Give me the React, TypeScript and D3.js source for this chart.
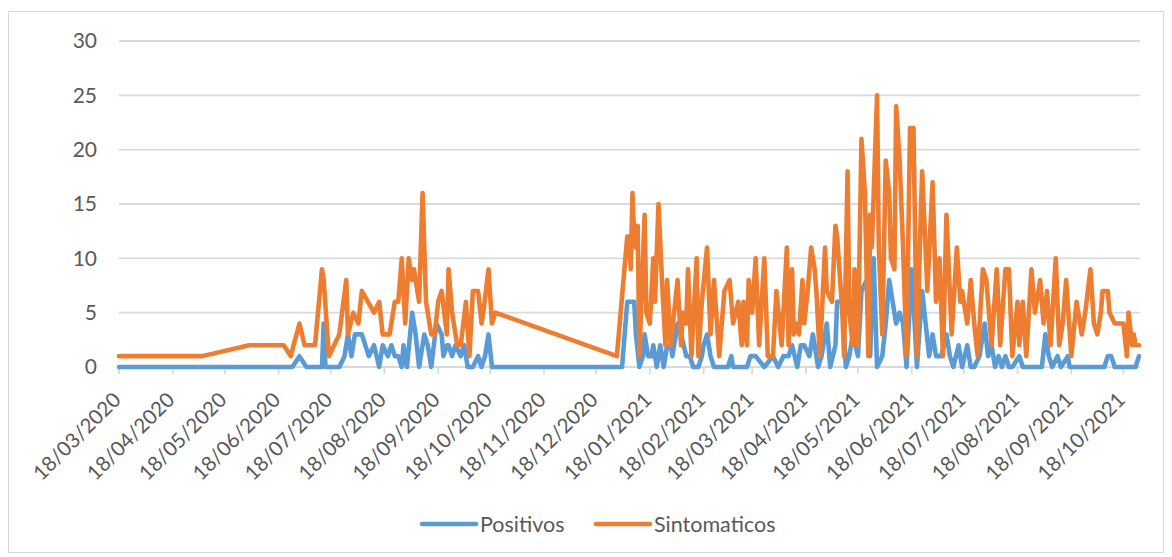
import React from 'react';
import * as d3 from 'd3';

// fechas (ISO) y valores
const sintomaticosFechas = [
  '2020-03-18', '2020-05-05', '2020-06-01', '2020-06-21', '2020-06-25', '2020-06-30', '2020-07-03', '2020-07-09',
  '2020-07-13', '2020-07-14', '2020-07-17', '2020-07-23', '2020-07-27', '2020-07-28', '2020-07-31', '2020-08-03',
  '2020-08-05', '2020-08-12', '2020-08-15', '2020-08-17', '2020-08-21', '2020-08-24', '2020-08-26', '2020-08-28',
  '2020-08-30', '2020-09-01', '2020-09-03', '2020-09-04', '2020-09-07', '2020-09-09', '2020-09-11', '2020-09-14',
  '2020-09-16', '2020-09-18', '2020-09-20', '2020-09-23', '2020-09-24', '2020-09-26', '2020-09-29', '2020-10-01',
  '2020-10-04', '2020-10-06', '2020-10-08', '2020-10-11', '2020-10-13', '2020-10-14', '2020-10-17', '2020-10-19',
  '2020-10-21', '2020-12-30', '2021-01-05', '2021-01-06', '2021-01-07', '2021-01-08', '2021-01-09', '2021-01-10',
  '2021-01-11', '2021-01-12', '2021-01-15', '2021-01-16', '2021-01-18', '2021-01-20', '2021-01-21', '2021-01-23',
  '2021-01-25', '2021-01-27', '2021-01-28', '2021-01-30', '2021-02-03', '2021-02-05', '2021-02-06', '2021-02-08',
  '2021-02-09', '2021-02-11', '2021-02-14', '2021-02-15', '2021-02-17', '2021-02-20', '2021-02-22', '2021-02-24',
  '2021-02-27', '2021-03-02', '2021-03-05', '2021-03-07', '2021-03-10', '2021-03-12', '2021-03-13', '2021-03-15',
  '2021-03-16', '2021-03-18', '2021-03-20', '2021-03-22', '2021-03-25', '2021-03-27', '2021-03-30', '2021-04-01',
  '2021-04-04', '2021-04-07', '2021-04-08', '2021-04-10', '2021-04-11', '2021-04-13', '2021-04-14', '2021-04-16',
  '2021-04-17', '2021-04-19', '2021-04-21', '2021-04-23', '2021-04-24', '2021-04-26', '2021-04-29', '2021-04-30',
  '2021-05-03', '2021-05-05', '2021-05-06', '2021-05-09', '2021-05-10', '2021-05-12', '2021-05-13', '2021-05-15',
  '2021-05-16', '2021-05-18', '2021-05-20', '2021-05-22', '2021-05-24', '2021-05-25', '2021-05-26', '2021-05-29',
  '2021-05-30', '2021-06-01', '2021-06-03', '2021-06-05', '2021-06-06', '2021-06-08', '2021-06-09', '2021-06-11',
  '2021-06-13', '2021-06-15', '2021-06-17', '2021-06-19', '2021-06-21', '2021-06-23', '2021-06-24', '2021-06-27',
  '2021-06-30', '2021-07-02', '2021-07-04', '2021-07-06', '2021-07-08', '2021-07-11', '2021-07-14', '2021-07-16',
  '2021-07-17', '2021-07-20', '2021-07-22', '2021-07-24', '2021-07-26', '2021-07-29', '2021-07-31', '2021-08-03',
  '2021-08-06', '2021-08-08', '2021-08-11', '2021-08-13', '2021-08-15', '2021-08-18', '2021-08-19', '2021-08-21',
  '2021-08-23', '2021-08-26', '2021-08-28', '2021-08-31', '2021-09-02', '2021-09-04', '2021-09-06', '2021-09-09',
  '2021-09-11', '2021-09-13', '2021-09-15', '2021-09-18', '2021-09-21', '2021-09-24', '2021-09-26', '2021-09-29',
  '2021-10-01', '2021-10-03', '2021-10-05', '2021-10-06', '2021-10-09', '2021-10-10', '2021-10-13', '2021-10-16',
  '2021-10-18', '2021-10-20', '2021-10-21', '2021-10-23', '2021-10-24', '2021-10-25', '2021-10-27',
];
const sintomaticos = [
  1, 1, 2, 2, 1, 4, 2, 2,
  9, 8, 1, 3, 8, 3, 5, 4,
  7, 5, 6, 3, 3, 6, 6, 10,
  4, 10, 8, 9, 6, 16, 6, 3,
  3, 6, 7, 3, 9, 5, 2, 2,
  6, 1, 7, 7, 4, 5, 9, 4,
  5, 1, 12, 12, 9, 16, 12, 11,
  13, 1, 14, 5, 4, 10, 6, 15,
  8, 2, 8, 2, 8, 2, 5, 4,
  9, 1, 10, 1, 6, 11, 3, 8,
  1, 7, 8, 4, 6, 2, 6, 2,
  8, 5, 10, 2, 10, 1, 1, 7,
  2, 11, 2, 9, 3, 4, 3, 8,
  4, 7, 11, 9, 7, 1, 11, 7,
  6, 13, 12, 5, 1, 18, 5, 2,
  9, 2, 21, 16, 1, 14, 11, 25,
  11, 3, 19, 16, 10, 9, 24, 19,
  11, 1, 22, 22, 1, 13, 18, 7,
  17, 6, 10, 1, 14, 3, 11, 6,
  7, 4, 8, 4, 1, 9, 8, 2,
  9, 2, 9, 9, 1, 6, 2, 6,
  1, 9, 5, 8, 4, 7, 2, 10,
  2, 4, 8, 1, 6, 3, 5, 9,
  4, 3, 5, 7, 7, 5, 4, 4,
  4, 1, 5, 2, 3, 2, 2,
];

const positivosFechas = [
  '2020-03-18', '2020-06-26', '2020-06-30', '2020-07-04', '2020-07-13', '2020-07-14', '2020-07-15', '2020-07-23',
  '2020-07-26', '2020-07-28', '2020-07-30', '2020-08-01', '2020-08-05', '2020-08-07', '2020-08-09', '2020-08-12',
  '2020-08-15', '2020-08-17', '2020-08-20', '2020-08-22', '2020-08-24', '2020-08-26', '2020-08-28', '2020-08-29',
  '2020-08-31', '2020-09-03', '2020-09-05', '2020-09-07', '2020-09-10', '2020-09-12', '2020-09-14', '2020-09-17',
  '2020-09-20', '2020-09-21', '2020-09-23', '2020-09-24', '2020-09-26', '2020-09-28', '2020-10-01', '2020-10-03',
  '2020-10-05', '2020-10-08', '2020-10-11', '2020-10-13', '2020-10-15', '2020-10-17', '2020-10-19', '2021-01-02',
  '2021-01-05', '2021-01-07', '2021-01-09', '2021-01-10', '2021-01-12', '2021-01-14', '2021-01-15', '2021-01-17',
  '2021-01-19', '2021-01-20', '2021-01-22', '2021-01-24', '2021-01-26', '2021-01-28', '2021-01-30', '2021-01-31',
  '2021-02-03', '2021-02-05', '2021-02-08', '2021-02-10', '2021-02-12', '2021-02-15', '2021-02-17', '2021-02-18',
  '2021-02-20', '2021-02-22', '2021-02-24', '2021-03-04', '2021-03-06', '2021-03-07', '2021-03-15', '2021-03-17',
  '2021-03-20', '2021-03-25', '2021-03-30', '2021-04-02', '2021-04-05', '2021-04-08', '2021-04-10', '2021-04-13',
  '2021-04-15', '2021-04-17', '2021-04-20', '2021-04-22', '2021-04-25', '2021-04-27', '2021-04-30', '2021-05-02',
  '2021-05-05', '2021-05-06', '2021-05-09', '2021-05-11', '2021-05-13', '2021-05-15', '2021-05-18', '2021-05-20',
  '2021-05-23', '2021-05-25', '2021-05-27', '2021-05-29', '2021-06-01', '2021-06-03', '2021-06-05', '2021-06-07',
  '2021-06-09', '2021-06-11', '2021-06-13', '2021-06-15', '2021-06-18', '2021-06-21', '2021-06-24', '2021-06-26',
  '2021-06-28', '2021-06-30', '2021-07-02', '2021-07-05', '2021-07-08', '2021-07-10', '2021-07-12', '2021-07-15',
  '2021-07-17', '2021-07-20', '2021-07-22', '2021-07-24', '2021-07-27', '2021-07-30', '2021-08-01', '2021-08-03',
  '2021-08-05', '2021-08-07', '2021-08-09', '2021-08-11', '2021-08-13', '2021-08-15', '2021-08-19', '2021-08-21',
  '2021-09-01', '2021-09-03', '2021-09-05', '2021-09-07', '2021-09-10', '2021-09-12', '2021-09-16', '2021-09-17',
  '2021-10-07', '2021-10-09', '2021-10-11', '2021-10-13', '2021-10-25', '2021-10-27',
];
const positivos = [
  0, 0, 1, 0, 0, 4, 0, 0,
  1, 3, 1, 3, 3, 2, 1, 2,
  0, 2, 1, 2, 1, 1, 0, 2,
  0, 5, 3, 0, 3, 2, 0, 4,
  3, 1, 2, 2, 1, 2, 1, 2,
  0, 0, 1, 0, 1, 3, 0, 0,
  6, 6, 6, 3, 0, 1, 3, 1,
  1, 2, 0, 2, 0, 2, 2, 1,
  4, 3, 1, 1, 0, 0, 1, 2,
  3, 1, 0, 0, 1, 0, 0, 1,
  1, 0, 1, 0, 1, 1, 2, 0,
  2, 2, 1, 3, 0, 1, 4, 0,
  2, 6, 6, 0, 1, 3, 1, 7,
  8, 1, 10, 0, 1, 4, 8, 6,
  4, 5, 4, 0, 9, 0, 7, 4,
  1, 3, 1, 1, 3, 1, 0, 2,
  0, 2, 0, 0, 1, 4, 1, 2,
  0, 1, 0, 1, 0, 0, 1, 0,
  0, 3, 1, 0, 1, 0, 1, 0,
  0, 1, 1, 0, 0, 1,
];

const yTicks = [0, 5, 10, 15, 20, 25, 30];
const xTickLabels = [
  '18/03/2020', '18/04/2020', '18/05/2020', '18/06/2020', '18/07/2020', '18/08/2020', '18/09/2020',
  '18/10/2020', '18/11/2020', '18/12/2020', '18/01/2021', '18/02/2021', '18/03/2021', '18/04/2021',
  '18/05/2021', '18/06/2021', '18/07/2021', '18/08/2021', '18/09/2021', '18/10/2021',
];

const parseIso = d3.timeParse('%Y-%m-%d');
const parseTick = d3.timeParse('%d/%m/%Y');

const FONT = 'Lato, "Open Sans", sans-serif';
const TEXT = '#595959';
const GRID = '#d9d9d9';
const BLUE = '#5b9bd5';
const ORANGE = '#ed7d31';

type Pt = [Date, number];

export default function App() {
  const width = 1172;
  const height = 557;
  const margin = { top: 41, right: 32, bottom: 190, left: 119 };

  const posData: Pt[] = positivosFechas.map((d, i) => [parseIso(d)!, positivos[i]]);
  const sinData: Pt[] = sintomaticosFechas.map((d, i) => [parseIso(d)!, sintomaticos[i]]);

  const allDates = [...posData, ...sinData].map((d) => d[0]);
  const x = d3
    .scaleTime()
    .domain(d3.extent(allDates) as [Date, Date])
    .range([margin.left, width - margin.right - 1]);
  const y = d3
    .scaleLinear()
    .domain([0, 30])
    .range([height - margin.bottom, margin.top]);

  const line = d3
    .line<Pt>()
    .x((d) => x(d[0]))
    .y((d) => y(d[1]));

  const x0 = margin.left;
  const x1 = width - margin.right;
  const yBase = y(0);

  const legend = [
    { name: 'Positivos', color: BLUE, lx: 422 },
    { name: 'Sintomaticos', color: ORANGE, lx: 596 },
  ];

  return (
    <svg
      width={width}
      height={height}
      style={{ position: 'absolute', left: 0, top: 0, background: '#fff' }}
      fontFamily={FONT}
    >
      <rect x={8.5} y={11.5} width={1155} height={541} fill="#fff" stroke={GRID} strokeWidth={1} />

      {/* gridlines + y labels */}
      {yTicks.map((t) => (
        <g key={t}>
          {t > 0 && (
            <line x1={x0} x2={x1} y1={y(t)} y2={y(t)} stroke={GRID} strokeWidth={1.8} />
          )}
          <text x={97} y={y(t)} dy="0.35em" textAnchor="end" fontSize={21} fill={TEXT}>
            {t}
          </text>
        </g>
      ))}

      {/* x axis */}
      <line x1={x0} x2={x1} y1={yBase} y2={yBase} stroke={GRID} strokeWidth={1.8} />
      {xTickLabels.map((s) => {
        const tx = x(parseTick(s)!);
        return (
          <g key={s}>
            <line x1={tx} x2={tx} y1={yBase} y2={yBase + 7} stroke={GRID} strokeWidth={1.8} />
            <text
              transform={`translate(${tx - 2},${yBase + 29}) rotate(-45)`}
              textAnchor="end"
              dy="0.35em"
              fontSize={20.5}
              fill={TEXT}
            >
              {s}
            </text>
          </g>
        );
      })}

      {/* series */}
      <path d={line(posData)!} fill="none" stroke={BLUE} strokeWidth={4.6} strokeLinejoin="round" strokeLinecap="round" />
      <path d={line(sinData)!} fill="none" stroke={ORANGE} strokeWidth={4.6} strokeLinejoin="round" strokeLinecap="round" />

      {/* legend */}
      {legend.map((l) => (
        <g key={l.name}>
          <line x1={l.lx} x2={l.lx + 54} y1={524} y2={524} stroke={l.color} strokeWidth={4.6} strokeLinecap="round" />
          <text x={l.lx + 58} y={524} dy="0.35em" fontSize={21.5} fill={TEXT}>
            {l.name}
          </text>
        </g>
      ))}
    </svg>
  );
}
